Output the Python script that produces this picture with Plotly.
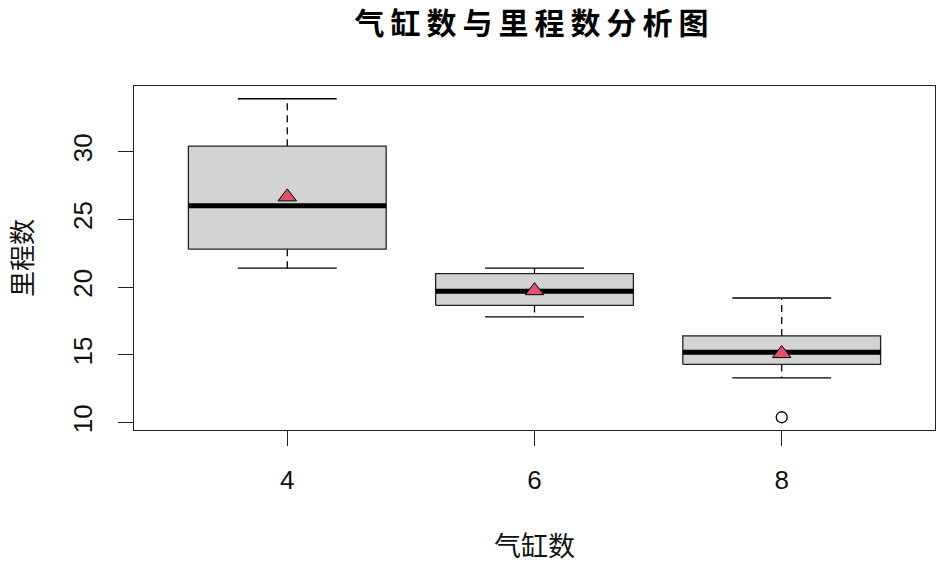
import plotly.graph_objects as go

# Data (mtcars mpg by cyl, boxplot stats)
categories = ["4", "6", "8"]
lower_whisker = [21.4, 17.8, 13.3]
q1 = [22.8, 18.65, 14.3]
median = [26.0, 19.7, 15.2]
q3 = [30.4, 21.0, 16.4]
upper_whisker = [33.9, 21.4, 19.2]
means = [26.66, 19.74, 15.10]
outlier_group = ["8"]
outlier_values = [10.4]

title_text = "气缸数与里程数分析图"
x_title = "气缸数"
y_title = "里程数"
y_ticks = [10, 15, 20, 25, 30]

pos = {c: i + 1 for i, c in enumerate(categories)}
half_box = 0.4
half_cap = 0.2

fig = go.Figure()

# whiskers (dashed)
wx, wy = [], []
for c, a, b, lo, hi in zip(categories, q1, q3, lower_whisker, upper_whisker):
    p = pos[c]
    wx += [p, p, None, p, p, None]
    wy += [b, hi, None, a, lo, None]
fig.add_trace(go.Scatter(x=wx, y=wy, mode="lines",
                         line=dict(color="black", width=1.3, dash="7px,5px"),
                         hoverinfo="skip"))

# caps
cx, cy = [], []
for c, lo, hi in zip(categories, lower_whisker, upper_whisker):
    p = pos[c]
    cx += [p - half_cap, p + half_cap, None, p - half_cap, p + half_cap, None]
    cy += [hi, hi, None, lo, lo, None]
fig.add_trace(go.Scatter(x=cx, y=cy, mode="lines",
                         line=dict(color="black", width=1.3), hoverinfo="skip"))

# boxes
for c, a, b in zip(categories, q1, q3):
    p = pos[c]
    fig.add_trace(go.Scatter(
        x=[p - half_box, p + half_box, p + half_box, p - half_box, p - half_box],
        y=[a, a, b, b, a], mode="lines", fill="toself", fillcolor="#D3D3D3",
        line=dict(color="#222222", width=1.3), hoverinfo="skip"))

# medians
mx, my = [], []
for c, m in zip(categories, median):
    p = pos[c]
    mx += [p - half_box, p + half_box, None]
    my += [m, m, None]
fig.add_trace(go.Scatter(x=mx, y=my, mode="lines",
                         line=dict(color="black", width=5), hoverinfo="skip"))

# outliers
fig.add_trace(go.Scatter(x=[pos[g] for g in outlier_group], y=outlier_values,
                         mode="markers",
                         marker=dict(symbol="circle-open", size=11,
                                     color="black", line=dict(width=1.3)),
                         hoverinfo="skip"))

# means
fig.add_trace(go.Scatter(x=[pos[c] for c in categories], y=means, mode="markers",
                         marker=dict(symbol="triangle-up", size=16, color="#DF536B",
                                     line=dict(color="black", width=1)),
                         hoverinfo="skip"))

axis_font = dict(family="Liberation Sans, Arial, sans-serif", size=26, color="#111111")

fig.update_layout(
    width=942, height=566,
    margin=dict(l=134, r=7, t=86, b=136),
    plot_bgcolor="white", paper_bgcolor="white",
    showlegend=False, hovermode=False,
    title=dict(text="<b>" + title_text + "</b>", x=0.5, xref="paper", xanchor="center",
               y=1 - 23 / 566, yref="container", yanchor="middle",
               font=dict(family="Noto Sans CJK SC", size=30, color="black")),
    xaxis=dict(range=[0.38, 3.62], tickmode="array",
               tickvals=[pos[c] for c in categories], ticktext=categories,
               showgrid=False, zeroline=False, showline=True, mirror=True,
               linecolor="#222222", linewidth=1.3, ticks="outside", ticklen=15,
               tickwidth=1.3, tickcolor="#222222", tickfont=axis_font,
               ticklabelstandoff=12),
    yaxis=dict(range=[9.46, 34.84], tickmode="array", tickvals=y_ticks,
               ticktext=[str(v) for v in y_ticks], tickangle=-90,
               showgrid=False, zeroline=False, showline=True, mirror=True,
               linecolor="#222222", linewidth=1.3, ticks="outside", ticklen=15,
               tickwidth=1.3, tickcolor="#222222", tickfont=axis_font,
               ticklabelstandoff=15),
    annotations=[
        dict(text=x_title, xref="paper", yref="paper", x=0.5, y=0,
             xanchor="center", yanchor="middle", yshift=-114, showarrow=False,
             font=dict(family="Noto Sans CJK SC", size=27, color="#111111")),
        dict(text=y_title, xref="paper", yref="paper", x=0, y=0.5,
             xanchor="center", yanchor="middle", xshift=-114, textangle=-90,
             showarrow=False,
             font=dict(family="Noto Sans CJK SC", size=26, color="#111111")),
    ],
)

post = (
    "document.body.style.margin='0';"
    "document.querySelectorAll('.gtitle').forEach(function(t){"
    "t.style.letterSpacing='6px';});"
)
fig.write_html("out.html", config={"displayModeBar": False}, post_script=post)
